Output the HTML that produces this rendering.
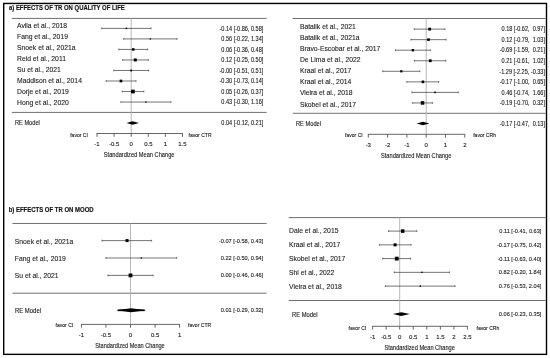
<!DOCTYPE html>
<html><head><meta charset="utf-8"><style>
html,body{margin:0;padding:0;background:#fff;width:550px;height:358px;overflow:hidden}
svg{display:block;filter:grayscale(1)}
text{font-family:"Liberation Sans", sans-serif;white-space:pre}
</style></head><body>
<svg width="550" height="358" viewBox="0 0 550 358">
<rect width="550" height="358" fill="#fff"/>
<line x1="11.80" y1="18.40" x2="266.70" y2="18.40" stroke="#6e6e6e" stroke-width="1"/>
<line x1="11.80" y1="112.40" x2="266.70" y2="112.40" stroke="#6e6e6e" stroke-width="1"/>
<line x1="131.20" y1="18.40" x2="131.20" y2="133.50" stroke="#b0b0b0" stroke-width="0.9"/>
<line x1="101.79" y1="28.40" x2="151.04" y2="28.40" stroke="#3a3a3a" stroke-width="0.7"/>
<line x1="101.79" y1="27.50" x2="101.79" y2="29.30" stroke="#3a3a3a" stroke-width="0.7"/>
<line x1="151.04" y1="27.50" x2="151.04" y2="29.30" stroke="#3a3a3a" stroke-width="0.7"/>
<rect x="125.66" y="27.65" width="1.50" height="1.50" fill="#000"/>
<text x="17.00" y="28.00" font-size="7.2" text-anchor="start" fill="#1a1a1a" textLength="50.07" lengthAdjust="spacingAndGlyphs" stroke="#1a1a1a" stroke-width="0.1">Avila et al., 2018</text>
<text x="263.30" y="30.60" font-size="6.6" text-anchor="end" fill="#222" textLength="43.81" lengthAdjust="spacingAndGlyphs" stroke="#222" stroke-width="0.12">-0.14 [-0.86, 0.58]</text>
<line x1="123.68" y1="38.92" x2="177.03" y2="38.92" stroke="#3a3a3a" stroke-width="0.7"/>
<line x1="123.68" y1="38.02" x2="123.68" y2="39.82" stroke="#3a3a3a" stroke-width="0.7"/>
<line x1="177.03" y1="38.02" x2="177.03" y2="39.82" stroke="#3a3a3a" stroke-width="0.7"/>
<rect x="149.70" y="38.27" width="1.30" height="1.30" fill="#000"/>
<text x="17.00" y="39.06" font-size="7.2" text-anchor="start" fill="#1a1a1a" textLength="50.95" lengthAdjust="spacingAndGlyphs" stroke="#1a1a1a" stroke-width="0.1">Fang et al., 2019</text>
<text x="263.30" y="41.12" font-size="6.6" text-anchor="end" fill="#222" textLength="41.96" lengthAdjust="spacingAndGlyphs" stroke="#222" stroke-width="0.12">0.56 [-0.22, 1.34]</text>
<line x1="118.89" y1="49.44" x2="147.62" y2="49.44" stroke="#3a3a3a" stroke-width="0.7"/>
<line x1="118.89" y1="48.54" x2="118.89" y2="50.34" stroke="#3a3a3a" stroke-width="0.7"/>
<line x1="147.62" y1="48.54" x2="147.62" y2="50.34" stroke="#3a3a3a" stroke-width="0.7"/>
<rect x="132.00" y="48.19" width="2.50" height="2.50" fill="#000"/>
<text x="17.00" y="50.12" font-size="7.2" text-anchor="start" fill="#1a1a1a" textLength="58.51" lengthAdjust="spacingAndGlyphs" stroke="#1a1a1a" stroke-width="0.1">Snoek et al., 2021a</text>
<text x="263.30" y="51.64" font-size="6.6" text-anchor="end" fill="#222" textLength="41.96" lengthAdjust="spacingAndGlyphs" stroke="#222" stroke-width="0.12">0.06 [-0.36, 0.48]</text>
<line x1="122.65" y1="59.96" x2="148.30" y2="59.96" stroke="#3a3a3a" stroke-width="0.7"/>
<line x1="122.65" y1="59.06" x2="122.65" y2="60.86" stroke="#3a3a3a" stroke-width="0.7"/>
<line x1="148.30" y1="59.06" x2="148.30" y2="60.86" stroke="#3a3a3a" stroke-width="0.7"/>
<rect x="133.80" y="58.46" width="3.00" height="3.00" fill="#000"/>
<text x="17.00" y="61.18" font-size="7.2" text-anchor="start" fill="#1a1a1a" textLength="48.94" lengthAdjust="spacingAndGlyphs" stroke="#1a1a1a" stroke-width="0.1">Reid et al., 2011</text>
<text x="263.30" y="62.16" font-size="6.6" text-anchor="end" fill="#222" textLength="41.96" lengthAdjust="spacingAndGlyphs" stroke="#222" stroke-width="0.12">0.12 [-0.25, 0.50]</text>
<line x1="113.76" y1="70.48" x2="148.64" y2="70.48" stroke="#3a3a3a" stroke-width="0.7"/>
<line x1="113.76" y1="69.58" x2="113.76" y2="71.38" stroke="#3a3a3a" stroke-width="0.7"/>
<line x1="148.64" y1="69.58" x2="148.64" y2="71.38" stroke="#3a3a3a" stroke-width="0.7"/>
<rect x="130.30" y="69.58" width="1.80" height="1.80" fill="#000"/>
<text x="17.00" y="72.24" font-size="7.2" text-anchor="start" fill="#1a1a1a" textLength="43.78" lengthAdjust="spacingAndGlyphs" stroke="#1a1a1a" stroke-width="0.1">Su et al., 2021</text>
<text x="263.30" y="72.68" font-size="6.6" text-anchor="end" fill="#222" textLength="43.81" lengthAdjust="spacingAndGlyphs" stroke="#222" stroke-width="0.12">-0.00 [-0.51, 0.51]</text>
<line x1="106.23" y1="81.00" x2="135.99" y2="81.00" stroke="#3a3a3a" stroke-width="0.7"/>
<line x1="106.23" y1="80.10" x2="106.23" y2="81.90" stroke="#3a3a3a" stroke-width="0.7"/>
<line x1="135.99" y1="80.10" x2="135.99" y2="81.90" stroke="#3a3a3a" stroke-width="0.7"/>
<rect x="119.59" y="79.65" width="2.70" height="2.70" fill="#000"/>
<text x="17.00" y="83.30" font-size="7.2" text-anchor="start" fill="#1a1a1a" textLength="64.92" lengthAdjust="spacingAndGlyphs" stroke="#1a1a1a" stroke-width="0.1">Maddison et al., 2014</text>
<text x="263.30" y="83.20" font-size="6.6" text-anchor="end" fill="#222" textLength="43.81" lengthAdjust="spacingAndGlyphs" stroke="#222" stroke-width="0.12">-0.30 [-0.73, 0.14]</text>
<line x1="122.31" y1="91.52" x2="143.85" y2="91.52" stroke="#3a3a3a" stroke-width="0.7"/>
<line x1="122.31" y1="90.62" x2="122.31" y2="92.42" stroke="#3a3a3a" stroke-width="0.7"/>
<line x1="143.85" y1="90.62" x2="143.85" y2="92.42" stroke="#3a3a3a" stroke-width="0.7"/>
<rect x="131.06" y="89.67" width="3.70" height="3.70" fill="#000"/>
<text x="17.00" y="94.36" font-size="7.2" text-anchor="start" fill="#1a1a1a" textLength="51.70" lengthAdjust="spacingAndGlyphs" stroke="#1a1a1a" stroke-width="0.1">Dorje et al., 2019</text>
<text x="263.30" y="93.72" font-size="6.6" text-anchor="end" fill="#222" textLength="41.96" lengthAdjust="spacingAndGlyphs" stroke="#222" stroke-width="0.12">0.05 [-0.26, 0.37]</text>
<line x1="120.94" y1="102.04" x2="170.87" y2="102.04" stroke="#3a3a3a" stroke-width="0.7"/>
<line x1="120.94" y1="101.14" x2="120.94" y2="102.94" stroke="#3a3a3a" stroke-width="0.7"/>
<line x1="170.87" y1="101.14" x2="170.87" y2="102.94" stroke="#3a3a3a" stroke-width="0.7"/>
<rect x="145.26" y="101.39" width="1.30" height="1.30" fill="#000"/>
<text x="17.00" y="105.42" font-size="7.2" text-anchor="start" fill="#1a1a1a" textLength="51.71" lengthAdjust="spacingAndGlyphs" stroke="#1a1a1a" stroke-width="0.1">Hong et al., 2020</text>
<text x="263.30" y="104.24" font-size="6.6" text-anchor="end" fill="#222" textLength="41.96" lengthAdjust="spacingAndGlyphs" stroke="#222" stroke-width="0.12">0.43 [-0.30, 1.16]</text>
<polygon points="126.50,123.00 132.57,121.20 138.98,123.00 132.57,124.80" fill="#000"/>
<text x="14.90" y="125.20" font-size="6.3" text-anchor="start" fill="#222" textLength="25.00" lengthAdjust="spacingAndGlyphs" stroke="#222" stroke-width="0.12">RE Model</text>
<text x="263.30" y="125.20" font-size="6.6" text-anchor="end" fill="#222" textLength="41.96" lengthAdjust="spacingAndGlyphs" stroke="#222" stroke-width="0.12">0.04 [-0.12, 0.21]</text>
<line x1="96.60" y1="133.50" x2="182.90" y2="133.50" stroke="#555" stroke-width="0.9"/>
<line x1="97.00" y1="133.50" x2="97.00" y2="136.80" stroke="#555" stroke-width="0.9"/>
<text x="97.00" y="145.80" font-size="6.0" text-anchor="middle" fill="#222" stroke="#222" stroke-width="0.12">-1</text>
<line x1="114.10" y1="133.50" x2="114.10" y2="136.80" stroke="#555" stroke-width="0.9"/>
<text x="114.10" y="145.80" font-size="6.0" text-anchor="middle" fill="#222" stroke="#222" stroke-width="0.12">-0.5</text>
<line x1="131.20" y1="133.50" x2="131.20" y2="136.80" stroke="#555" stroke-width="0.9"/>
<text x="131.20" y="145.80" font-size="6.0" text-anchor="middle" fill="#222" stroke="#222" stroke-width="0.12">0</text>
<line x1="148.30" y1="133.50" x2="148.30" y2="136.80" stroke="#555" stroke-width="0.9"/>
<text x="148.30" y="145.80" font-size="6.0" text-anchor="middle" fill="#222" stroke="#222" stroke-width="0.12">0.5</text>
<line x1="165.40" y1="133.50" x2="165.40" y2="136.80" stroke="#555" stroke-width="0.9"/>
<text x="165.40" y="145.80" font-size="6.0" text-anchor="middle" fill="#222" stroke="#222" stroke-width="0.12">1</text>
<line x1="182.50" y1="133.50" x2="182.50" y2="136.80" stroke="#555" stroke-width="0.9"/>
<text x="182.50" y="145.80" font-size="6.0" text-anchor="middle" fill="#222" stroke="#222" stroke-width="0.12">1.5</text>
<text x="87.90" y="136.60" font-size="5.2" text-anchor="end" fill="#222" textLength="17.71" lengthAdjust="spacingAndGlyphs" stroke="#222" stroke-width="0.12">favor CI</text>
<text x="188.50" y="136.60" font-size="5.2" text-anchor="start" fill="#222" textLength="23.05" lengthAdjust="spacingAndGlyphs" stroke="#222" stroke-width="0.12">favor CTR</text>
<text x="103.80" y="156.60" font-size="6.3" text-anchor="start" fill="#222" textLength="70.70" lengthAdjust="spacingAndGlyphs" stroke="#222" stroke-width="0.12">Standardized Mean Change</text>
<line x1="292.80" y1="18.50" x2="545.50" y2="18.50" stroke="#6e6e6e" stroke-width="1"/>
<line x1="292.80" y1="113.30" x2="545.50" y2="113.30" stroke="#6e6e6e" stroke-width="1"/>
<line x1="426.20" y1="18.50" x2="426.20" y2="134.30" stroke="#b0b0b0" stroke-width="0.9"/>
<line x1="414.23" y1="29.10" x2="444.92" y2="29.10" stroke="#3a3a3a" stroke-width="0.7"/>
<line x1="414.23" y1="28.20" x2="414.23" y2="30.00" stroke="#3a3a3a" stroke-width="0.7"/>
<line x1="444.92" y1="28.20" x2="444.92" y2="30.00" stroke="#3a3a3a" stroke-width="0.7"/>
<rect x="428.27" y="27.70" width="2.80" height="2.80" fill="#000"/>
<text x="299.90" y="28.60" font-size="7.2" text-anchor="start" fill="#1a1a1a" textLength="55.86" lengthAdjust="spacingAndGlyphs" stroke="#1a1a1a" stroke-width="0.1">Batalik et al., 2021</text>
<text x="545.00" y="31.30" font-size="6.6" text-anchor="end" fill="#222" textLength="43.50" lengthAdjust="spacingAndGlyphs" stroke="#222" stroke-width="0.12">0.18 [-0.62,  0.97]</text>
<line x1="410.95" y1="39.65" x2="446.08" y2="39.65" stroke="#3a3a3a" stroke-width="0.7"/>
<line x1="410.95" y1="38.75" x2="410.95" y2="40.55" stroke="#3a3a3a" stroke-width="0.7"/>
<line x1="446.08" y1="38.75" x2="446.08" y2="40.55" stroke="#3a3a3a" stroke-width="0.7"/>
<rect x="427.22" y="38.35" width="2.60" height="2.60" fill="#000"/>
<text x="299.90" y="39.73" font-size="7.2" text-anchor="start" fill="#1a1a1a" textLength="59.63" lengthAdjust="spacingAndGlyphs" stroke="#1a1a1a" stroke-width="0.1">Batalik et al., 2021a</text>
<text x="545.00" y="41.85" font-size="6.6" text-anchor="end" fill="#222" textLength="43.50" lengthAdjust="spacingAndGlyphs" stroke="#222" stroke-width="0.12">0.12 [-0.79,  1.03]</text>
<line x1="395.51" y1="50.20" x2="430.25" y2="50.20" stroke="#3a3a3a" stroke-width="0.7"/>
<line x1="395.51" y1="49.30" x2="395.51" y2="51.10" stroke="#3a3a3a" stroke-width="0.7"/>
<line x1="430.25" y1="49.30" x2="430.25" y2="51.10" stroke="#3a3a3a" stroke-width="0.7"/>
<rect x="411.68" y="49.00" width="2.40" height="2.40" fill="#000"/>
<text x="299.90" y="50.86" font-size="7.2" text-anchor="start" fill="#1a1a1a" textLength="80.38" lengthAdjust="spacingAndGlyphs" stroke="#1a1a1a" stroke-width="0.1">Bravo-Escobar et al., 2017</text>
<text x="545.00" y="52.40" font-size="6.6" text-anchor="end" fill="#222" textLength="45.35" lengthAdjust="spacingAndGlyphs" stroke="#222" stroke-width="0.12">-0.69 [-1.59,  0.21]</text>
<line x1="414.43" y1="60.75" x2="445.89" y2="60.75" stroke="#3a3a3a" stroke-width="0.7"/>
<line x1="414.43" y1="59.85" x2="414.43" y2="61.65" stroke="#3a3a3a" stroke-width="0.7"/>
<line x1="445.89" y1="59.85" x2="445.89" y2="61.65" stroke="#3a3a3a" stroke-width="0.7"/>
<rect x="428.85" y="59.35" width="2.80" height="2.80" fill="#000"/>
<text x="299.90" y="61.99" font-size="7.2" text-anchor="start" fill="#1a1a1a" textLength="60.76" lengthAdjust="spacingAndGlyphs" stroke="#1a1a1a" stroke-width="0.1">De Lima et al., 2022</text>
<text x="545.00" y="62.95" font-size="6.6" text-anchor="end" fill="#222" textLength="43.50" lengthAdjust="spacingAndGlyphs" stroke="#222" stroke-width="0.12">0.21 [-0.61,  1.02]</text>
<line x1="382.77" y1="71.30" x2="419.83" y2="71.30" stroke="#3a3a3a" stroke-width="0.7"/>
<line x1="382.77" y1="70.40" x2="382.77" y2="72.20" stroke="#3a3a3a" stroke-width="0.7"/>
<line x1="419.83" y1="70.40" x2="419.83" y2="72.20" stroke="#3a3a3a" stroke-width="0.7"/>
<rect x="400.20" y="70.20" width="2.20" height="2.20" fill="#000"/>
<text x="299.90" y="73.12" font-size="7.2" text-anchor="start" fill="#1a1a1a" textLength="51.33" lengthAdjust="spacingAndGlyphs" stroke="#1a1a1a" stroke-width="0.1">Kraal et al., 2017</text>
<text x="545.00" y="73.50" font-size="6.6" text-anchor="end" fill="#222" textLength="45.66" lengthAdjust="spacingAndGlyphs" stroke="#222" stroke-width="0.12">-1.29 [-2.25, -0.33]</text>
<line x1="406.90" y1="81.85" x2="438.75" y2="81.85" stroke="#3a3a3a" stroke-width="0.7"/>
<line x1="406.90" y1="80.95" x2="406.90" y2="82.75" stroke="#3a3a3a" stroke-width="0.7"/>
<line x1="438.75" y1="80.95" x2="438.75" y2="82.75" stroke="#3a3a3a" stroke-width="0.7"/>
<rect x="421.62" y="80.55" width="2.60" height="2.60" fill="#000"/>
<text x="299.90" y="84.25" font-size="7.2" text-anchor="start" fill="#1a1a1a" textLength="51.33" lengthAdjust="spacingAndGlyphs" stroke="#1a1a1a" stroke-width="0.1">Kraal et al., 2014</text>
<text x="545.00" y="84.05" font-size="6.6" text-anchor="end" fill="#222" textLength="45.35" lengthAdjust="spacingAndGlyphs" stroke="#222" stroke-width="0.12">-0.17 [-1.00,  0.65]</text>
<line x1="411.92" y1="92.40" x2="458.24" y2="92.40" stroke="#3a3a3a" stroke-width="0.7"/>
<line x1="411.92" y1="91.50" x2="411.92" y2="93.30" stroke="#3a3a3a" stroke-width="0.7"/>
<line x1="458.24" y1="91.50" x2="458.24" y2="93.30" stroke="#3a3a3a" stroke-width="0.7"/>
<rect x="434.28" y="91.60" width="1.60" height="1.60" fill="#000"/>
<text x="299.90" y="95.38" font-size="7.2" text-anchor="start" fill="#1a1a1a" textLength="52.71" lengthAdjust="spacingAndGlyphs" stroke="#1a1a1a" stroke-width="0.1">Vieira et al., 2018</text>
<text x="545.00" y="94.60" font-size="6.6" text-anchor="end" fill="#222" textLength="43.50" lengthAdjust="spacingAndGlyphs" stroke="#222" stroke-width="0.12">0.46 [-0.74,  1.66]</text>
<line x1="412.69" y1="102.95" x2="432.38" y2="102.95" stroke="#3a3a3a" stroke-width="0.7"/>
<line x1="412.69" y1="102.05" x2="412.69" y2="103.85" stroke="#3a3a3a" stroke-width="0.7"/>
<line x1="432.38" y1="102.05" x2="432.38" y2="103.85" stroke="#3a3a3a" stroke-width="0.7"/>
<rect x="420.78" y="101.20" width="3.50" height="3.50" fill="#000"/>
<text x="299.90" y="106.51" font-size="7.2" text-anchor="start" fill="#1a1a1a" textLength="56.24" lengthAdjust="spacingAndGlyphs" stroke="#1a1a1a" stroke-width="0.1">Skobel et al., 2017</text>
<text x="545.00" y="105.15" font-size="6.6" text-anchor="end" fill="#222" textLength="45.35" lengthAdjust="spacingAndGlyphs" stroke="#222" stroke-width="0.12">-0.19 [-0.70,  0.32]</text>
<polygon points="416.53,123.50 422.92,121.70 429.31,123.50 422.92,125.30" fill="#000"/>
<text x="296.00" y="125.60" font-size="6.3" text-anchor="start" fill="#222" textLength="25.00" lengthAdjust="spacingAndGlyphs" stroke="#222" stroke-width="0.12">RE Model</text>
<text x="545.00" y="125.70" font-size="6.6" text-anchor="end" fill="#222" textLength="45.35" lengthAdjust="spacingAndGlyphs" stroke="#222" stroke-width="0.12">-0.17 [-0.47,  0.13]</text>
<line x1="367.90" y1="134.30" x2="465.20" y2="134.30" stroke="#555" stroke-width="0.9"/>
<line x1="368.30" y1="134.30" x2="368.30" y2="137.60" stroke="#555" stroke-width="0.9"/>
<text x="368.30" y="147.30" font-size="6.0" text-anchor="middle" fill="#222" stroke="#222" stroke-width="0.12">-3</text>
<line x1="387.60" y1="134.30" x2="387.60" y2="137.60" stroke="#555" stroke-width="0.9"/>
<text x="387.60" y="147.30" font-size="6.0" text-anchor="middle" fill="#222" stroke="#222" stroke-width="0.12">-2</text>
<line x1="406.90" y1="134.30" x2="406.90" y2="137.60" stroke="#555" stroke-width="0.9"/>
<text x="406.90" y="147.30" font-size="6.0" text-anchor="middle" fill="#222" stroke="#222" stroke-width="0.12">-1</text>
<line x1="426.20" y1="134.30" x2="426.20" y2="137.60" stroke="#555" stroke-width="0.9"/>
<text x="426.20" y="147.30" font-size="6.0" text-anchor="middle" fill="#222" stroke="#222" stroke-width="0.12">0</text>
<line x1="445.50" y1="134.30" x2="445.50" y2="137.60" stroke="#555" stroke-width="0.9"/>
<text x="445.50" y="147.30" font-size="6.0" text-anchor="middle" fill="#222" stroke="#222" stroke-width="0.12">1</text>
<line x1="464.80" y1="134.30" x2="464.80" y2="137.60" stroke="#555" stroke-width="0.9"/>
<text x="464.80" y="147.30" font-size="6.0" text-anchor="middle" fill="#222" stroke="#222" stroke-width="0.12">2</text>
<text x="362.70" y="137.00" font-size="5.2" text-anchor="end" fill="#222" textLength="17.71" lengthAdjust="spacingAndGlyphs" stroke="#222" stroke-width="0.12">favor CI</text>
<text x="473.20" y="137.00" font-size="5.2" text-anchor="start" fill="#222" textLength="22.78" lengthAdjust="spacingAndGlyphs" stroke="#222" stroke-width="0.12">favor CRh</text>
<text x="381.00" y="157.50" font-size="6.3" text-anchor="start" fill="#222" textLength="70.40" lengthAdjust="spacingAndGlyphs" stroke="#222" stroke-width="0.12">Standardized Mean Change</text>
<line x1="12.40" y1="223.45" x2="266.60" y2="223.45" stroke="#6e6e6e" stroke-width="1"/>
<line x1="12.40" y1="293.20" x2="266.60" y2="293.20" stroke="#6e6e6e" stroke-width="1"/>
<line x1="130.50" y1="223.45" x2="130.50" y2="324.40" stroke="#b0b0b0" stroke-width="0.9"/>
<line x1="102.02" y1="240.60" x2="151.61" y2="240.60" stroke="#3a3a3a" stroke-width="0.7"/>
<line x1="102.02" y1="239.70" x2="102.02" y2="241.50" stroke="#3a3a3a" stroke-width="0.7"/>
<line x1="151.61" y1="239.70" x2="151.61" y2="241.50" stroke="#3a3a3a" stroke-width="0.7"/>
<rect x="125.56" y="239.10" width="3.00" height="3.00" fill="#000"/>
<text x="14.80" y="244.30" font-size="7.2" text-anchor="start" fill="#1a1a1a" textLength="58.51" lengthAdjust="spacingAndGlyphs" stroke="#1a1a1a" stroke-width="0.1">Snoek et al., 2021a</text>
<text x="263.30" y="242.60" font-size="6.0" text-anchor="end" fill="#222" textLength="44.44" lengthAdjust="spacingAndGlyphs" stroke="#222" stroke-width="0.12">-0.07 [-0.58, 0.43]</text>
<line x1="105.95" y1="258.00" x2="176.65" y2="258.00" stroke="#3a3a3a" stroke-width="0.7"/>
<line x1="105.95" y1="257.10" x2="105.95" y2="258.90" stroke="#3a3a3a" stroke-width="0.7"/>
<line x1="176.65" y1="257.10" x2="176.65" y2="258.90" stroke="#3a3a3a" stroke-width="0.7"/>
<rect x="140.65" y="257.35" width="1.30" height="1.30" fill="#000"/>
<text x="14.80" y="260.90" font-size="7.2" text-anchor="start" fill="#1a1a1a" textLength="50.95" lengthAdjust="spacingAndGlyphs" stroke="#1a1a1a" stroke-width="0.1">Fang et al., 2019</text>
<text x="263.30" y="260.00" font-size="6.0" text-anchor="end" fill="#222" textLength="42.56" lengthAdjust="spacingAndGlyphs" stroke="#222" stroke-width="0.12">0.22 [-0.50, 0.94]</text>
<line x1="107.91" y1="275.40" x2="153.09" y2="275.40" stroke="#3a3a3a" stroke-width="0.7"/>
<line x1="107.91" y1="274.50" x2="107.91" y2="276.30" stroke="#3a3a3a" stroke-width="0.7"/>
<line x1="153.09" y1="274.50" x2="153.09" y2="276.30" stroke="#3a3a3a" stroke-width="0.7"/>
<rect x="128.60" y="273.50" width="3.80" height="3.80" fill="#000"/>
<text x="14.80" y="277.50" font-size="7.2" text-anchor="start" fill="#1a1a1a" textLength="43.78" lengthAdjust="spacingAndGlyphs" stroke="#1a1a1a" stroke-width="0.1">Su et al., 2021</text>
<text x="263.30" y="277.40" font-size="6.0" text-anchor="end" fill="#222" textLength="42.56" lengthAdjust="spacingAndGlyphs" stroke="#222" stroke-width="0.12">0.00 [-0.46, 0.46]</text>
<polygon points="116.26,310.30 130.99,308.30 146.21,310.30 130.99,312.30" fill="#000"/>
<line x1="117.76" y1="310.30" x2="144.71" y2="310.30" stroke="#000" stroke-width="1.7"/>
<text x="15.00" y="312.50" font-size="6.3" text-anchor="start" fill="#222" textLength="26.00" lengthAdjust="spacingAndGlyphs" stroke="#222" stroke-width="0.12">RE Model</text>
<text x="263.30" y="312.30" font-size="6.0" text-anchor="end" fill="#222" textLength="42.56" lengthAdjust="spacingAndGlyphs" stroke="#222" stroke-width="0.12">0.01 [-0.29, 0.32]</text>
<line x1="81.00" y1="324.40" x2="180.00" y2="324.40" stroke="#555" stroke-width="0.9"/>
<line x1="81.40" y1="324.40" x2="81.40" y2="327.70" stroke="#555" stroke-width="0.9"/>
<text x="81.40" y="336.60" font-size="6.0" text-anchor="middle" fill="#222" stroke="#222" stroke-width="0.12">-1</text>
<line x1="105.95" y1="324.40" x2="105.95" y2="327.70" stroke="#555" stroke-width="0.9"/>
<text x="105.95" y="336.60" font-size="6.0" text-anchor="middle" fill="#222" stroke="#222" stroke-width="0.12">-0.5</text>
<line x1="130.50" y1="324.40" x2="130.50" y2="327.70" stroke="#555" stroke-width="0.9"/>
<text x="130.50" y="336.60" font-size="6.0" text-anchor="middle" fill="#222" stroke="#222" stroke-width="0.12">0</text>
<line x1="155.05" y1="324.40" x2="155.05" y2="327.70" stroke="#555" stroke-width="0.9"/>
<text x="155.05" y="336.60" font-size="6.0" text-anchor="middle" fill="#222" stroke="#222" stroke-width="0.12">0.5</text>
<line x1="179.60" y1="324.40" x2="179.60" y2="327.70" stroke="#555" stroke-width="0.9"/>
<text x="179.60" y="336.60" font-size="6.0" text-anchor="middle" fill="#222" stroke="#222" stroke-width="0.12">1</text>
<text x="73.20" y="327.30" font-size="5.2" text-anchor="end" fill="#222" textLength="17.71" lengthAdjust="spacingAndGlyphs" stroke="#222" stroke-width="0.12">favor CI</text>
<text x="188.10" y="327.30" font-size="5.2" text-anchor="start" fill="#222" textLength="23.05" lengthAdjust="spacingAndGlyphs" stroke="#222" stroke-width="0.12">favor CTR</text>
<text x="95.30" y="347.50" font-size="6.3" text-anchor="start" fill="#222" textLength="69.40" lengthAdjust="spacingAndGlyphs" stroke="#222" stroke-width="0.12">Standardized Mean Change</text>
<line x1="288.70" y1="217.60" x2="545.50" y2="217.60" stroke="#6e6e6e" stroke-width="1"/>
<line x1="288.70" y1="300.50" x2="545.50" y2="300.50" stroke="#6e6e6e" stroke-width="1"/>
<line x1="399.70" y1="217.60" x2="399.70" y2="326.30" stroke="#b0b0b0" stroke-width="0.9"/>
<line x1="388.59" y1="231.10" x2="416.77" y2="231.10" stroke="#3a3a3a" stroke-width="0.7"/>
<line x1="388.59" y1="230.20" x2="388.59" y2="232.00" stroke="#3a3a3a" stroke-width="0.7"/>
<line x1="416.77" y1="230.20" x2="416.77" y2="232.00" stroke="#3a3a3a" stroke-width="0.7"/>
<rect x="400.93" y="229.35" width="3.50" height="3.50" fill="#000"/>
<text x="289.00" y="233.20" font-size="7.2" text-anchor="start" fill="#1a1a1a" textLength="49.44" lengthAdjust="spacingAndGlyphs" stroke="#1a1a1a" stroke-width="0.1">Dale et al., 2015</text>
<text x="541.40" y="233.10" font-size="6.0" text-anchor="end" fill="#222" textLength="42.15" lengthAdjust="spacingAndGlyphs" stroke="#222" stroke-width="0.12">0.11 [-0.41, 0.63]</text>
<line x1="379.38" y1="244.85" x2="411.08" y2="244.85" stroke="#3a3a3a" stroke-width="0.7"/>
<line x1="379.38" y1="243.95" x2="379.38" y2="245.75" stroke="#3a3a3a" stroke-width="0.7"/>
<line x1="411.08" y1="243.95" x2="411.08" y2="245.75" stroke="#3a3a3a" stroke-width="0.7"/>
<rect x="393.59" y="243.35" width="3.00" height="3.00" fill="#000"/>
<text x="289.00" y="247.15" font-size="7.2" text-anchor="start" fill="#1a1a1a" textLength="51.33" lengthAdjust="spacingAndGlyphs" stroke="#1a1a1a" stroke-width="0.1">Kraal et al., 2017</text>
<text x="541.40" y="246.85" font-size="6.0" text-anchor="end" fill="#222" textLength="44.44" lengthAdjust="spacingAndGlyphs" stroke="#222" stroke-width="0.12">-0.17 [-0.75, 0.42]</text>
<line x1="382.63" y1="258.60" x2="410.54" y2="258.60" stroke="#3a3a3a" stroke-width="0.7"/>
<line x1="382.63" y1="257.70" x2="382.63" y2="259.50" stroke="#3a3a3a" stroke-width="0.7"/>
<line x1="410.54" y1="257.70" x2="410.54" y2="259.50" stroke="#3a3a3a" stroke-width="0.7"/>
<rect x="394.82" y="256.70" width="3.80" height="3.80" fill="#000"/>
<text x="289.00" y="261.10" font-size="7.2" text-anchor="start" fill="#1a1a1a" textLength="56.24" lengthAdjust="spacingAndGlyphs" stroke="#1a1a1a" stroke-width="0.1">Skobel et al., 2017</text>
<text x="541.40" y="260.60" font-size="6.0" text-anchor="end" fill="#222" textLength="44.02" lengthAdjust="spacingAndGlyphs" stroke="#222" stroke-width="0.12">-0.11 [-0.63, 0.40]</text>
<line x1="394.28" y1="272.35" x2="449.56" y2="272.35" stroke="#3a3a3a" stroke-width="0.7"/>
<line x1="394.28" y1="271.45" x2="394.28" y2="273.25" stroke="#3a3a3a" stroke-width="0.7"/>
<line x1="449.56" y1="271.45" x2="449.56" y2="273.25" stroke="#3a3a3a" stroke-width="0.7"/>
<rect x="421.22" y="271.65" width="1.40" height="1.40" fill="#000"/>
<text x="289.00" y="275.05" font-size="7.2" text-anchor="start" fill="#1a1a1a" textLength="45.29" lengthAdjust="spacingAndGlyphs" stroke="#1a1a1a" stroke-width="0.1">Shi et al., 2022</text>
<text x="541.40" y="274.35" font-size="6.0" text-anchor="end" fill="#222" textLength="42.56" lengthAdjust="spacingAndGlyphs" stroke="#222" stroke-width="0.12">0.82 [-0.20, 1.84]</text>
<line x1="385.34" y1="286.10" x2="454.98" y2="286.10" stroke="#3a3a3a" stroke-width="0.7"/>
<line x1="385.34" y1="285.20" x2="385.34" y2="287.00" stroke="#3a3a3a" stroke-width="0.7"/>
<line x1="454.98" y1="285.20" x2="454.98" y2="287.00" stroke="#3a3a3a" stroke-width="0.7"/>
<rect x="419.60" y="285.40" width="1.40" height="1.40" fill="#000"/>
<text x="289.00" y="289.00" font-size="7.2" text-anchor="start" fill="#1a1a1a" textLength="52.71" lengthAdjust="spacingAndGlyphs" stroke="#1a1a1a" stroke-width="0.1">Vieira et al., 2018</text>
<text x="541.40" y="288.10" font-size="6.0" text-anchor="end" fill="#222" textLength="42.56" lengthAdjust="spacingAndGlyphs" stroke="#222" stroke-width="0.12">0.76 [-0.53, 2.04]</text>
<polygon points="392.87,314.10 401.33,312.30 409.79,314.10 401.33,315.90" fill="#000"/>
<text x="292.10" y="316.60" font-size="6.3" text-anchor="start" fill="#222" textLength="25.50" lengthAdjust="spacingAndGlyphs" stroke="#222" stroke-width="0.12">RE Model</text>
<text x="541.40" y="316.10" font-size="6.0" text-anchor="end" fill="#222" textLength="42.56" lengthAdjust="spacingAndGlyphs" stroke="#222" stroke-width="0.12">0.06 [-0.23, 0.35]</text>
<line x1="372.20" y1="326.30" x2="467.85" y2="326.30" stroke="#555" stroke-width="0.9"/>
<line x1="372.60" y1="326.30" x2="372.60" y2="329.60" stroke="#555" stroke-width="0.9"/>
<text x="372.60" y="339.30" font-size="6.0" text-anchor="middle" fill="#222" stroke="#222" stroke-width="0.12">-1</text>
<line x1="386.15" y1="326.30" x2="386.15" y2="329.60" stroke="#555" stroke-width="0.9"/>
<text x="386.15" y="339.30" font-size="6.0" text-anchor="middle" fill="#222" stroke="#222" stroke-width="0.12">-0.5</text>
<line x1="399.70" y1="326.30" x2="399.70" y2="329.60" stroke="#555" stroke-width="0.9"/>
<text x="399.70" y="339.30" font-size="6.0" text-anchor="middle" fill="#222" stroke="#222" stroke-width="0.12">0</text>
<line x1="413.25" y1="326.30" x2="413.25" y2="329.60" stroke="#555" stroke-width="0.9"/>
<text x="413.25" y="339.30" font-size="6.0" text-anchor="middle" fill="#222" stroke="#222" stroke-width="0.12">0.5</text>
<line x1="426.80" y1="326.30" x2="426.80" y2="329.60" stroke="#555" stroke-width="0.9"/>
<text x="426.80" y="339.30" font-size="6.0" text-anchor="middle" fill="#222" stroke="#222" stroke-width="0.12">1</text>
<line x1="440.35" y1="326.30" x2="440.35" y2="329.60" stroke="#555" stroke-width="0.9"/>
<text x="440.35" y="339.30" font-size="6.0" text-anchor="middle" fill="#222" stroke="#222" stroke-width="0.12">1.5</text>
<line x1="453.90" y1="326.30" x2="453.90" y2="329.60" stroke="#555" stroke-width="0.9"/>
<text x="453.90" y="339.30" font-size="6.0" text-anchor="middle" fill="#222" stroke="#222" stroke-width="0.12">2</text>
<line x1="467.45" y1="326.30" x2="467.45" y2="329.60" stroke="#555" stroke-width="0.9"/>
<text x="467.45" y="339.30" font-size="6.0" text-anchor="middle" fill="#222" stroke="#222" stroke-width="0.12">2.5</text>
<text x="366.30" y="329.80" font-size="5.2" text-anchor="end" fill="#222" textLength="17.71" lengthAdjust="spacingAndGlyphs" stroke="#222" stroke-width="0.12">favor CI</text>
<text x="476.50" y="329.80" font-size="5.2" text-anchor="start" fill="#222" textLength="22.78" lengthAdjust="spacingAndGlyphs" stroke="#222" stroke-width="0.12">favor CRh</text>
<text x="384.50" y="349.50" font-size="6.3" text-anchor="start" fill="#222" textLength="70.40" lengthAdjust="spacingAndGlyphs" stroke="#222" stroke-width="0.12">Standardized Mean Change</text>
<text x="9.00" y="9.60" font-size="6.9" text-anchor="start" fill="#111" font-weight="bold" textLength="115.80" lengthAdjust="spacingAndGlyphs" stroke="#111" stroke-width="0.15">a) EFFECTS OF TR ON QUALITY OF LIFE</text>
<text x="8.70" y="211.80" font-size="6.9" text-anchor="start" fill="#111" font-weight="bold" textLength="84.90" lengthAdjust="spacingAndGlyphs" stroke="#111" stroke-width="0.15">b) EFFECTS OF TR ON MOOD</text>
<rect x="3.7" y="3.45" width="542.8" height="350.9" fill="none" stroke="#000" stroke-width="1.4"/>
</svg>
</body></html>
